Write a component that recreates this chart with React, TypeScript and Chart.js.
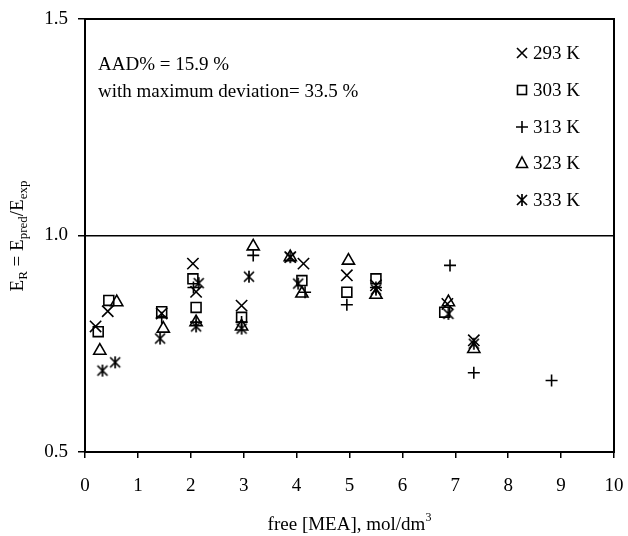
import React, { useEffect, useRef } from 'react';
import { Chart, registerables } from 'chart.js';

Chart.register(...registerables);

const FONT = "'Liberation Serif', 'Times New Roman', serif";

const seriesLabels = ['293 K', '303 K', '313 K', '323 K', '333 K'];

const x293 = [0.2, 0.43, 1.45, 2.04, 2.1, 2.96, 3.88, 4.13, 4.95, 5.5, 6.85, 7.35];
const y293 = [0.79, 0.825, 0.82, 0.935, 0.87, 0.838, 0.95, 0.935, 0.908, 0.885, 0.842, 0.758];

const x303 = [0.25, 0.45, 1.45, 2.04, 2.1, 2.96, 4.1, 4.95, 5.5, 6.8];
const y303 = [0.778, 0.85, 0.824, 0.9, 0.834, 0.811, 0.896, 0.869, 0.9, 0.823];

const x313 = [1.45, 2.05, 2.1, 2.96, 3.18, 4.16, 4.95, 5.5, 6.9, 7.35, 8.82];
const y313 = [0.81, 0.88, 0.8, 0.8, 0.954, 0.869, 0.84, 0.88, 0.931, 0.683, 0.665];

const x323 = [0.28, 0.6, 1.48, 2.1, 2.96, 3.18, 3.88, 4.1, 4.98, 5.5, 6.87, 7.35];
const y323 = [0.734, 0.846, 0.785, 0.8, 0.79, 0.975, 0.95, 0.866, 0.942, 0.863, 0.846, 0.738];

const x333 = [0.33, 0.57, 1.42, 2.15, 2.1, 2.96, 3.1, 3.88, 4.03, 5.5, 6.87, 7.35];
const y333 = [0.688, 0.707, 0.762, 0.89, 0.79, 0.785, 0.905, 0.95, 0.889, 0.875, 0.819, 0.75];

const annotationLines = ['AAD% = 15.9 %', 'with maximum deviation= 33.5 %'];

const xTitle = 'free [MEA], mol/dm';
const xTitleSup = '3';

function makeAsterisk(): HTMLCanvasElement {
  const size = 14;
  const c = document.createElement('canvas');
  c.width = size;
  c.height = size;
  const g = c.getContext('2d')!;
  g.strokeStyle = '#000';
  g.lineWidth = 1.7;
  const cx = size / 2;
  const cy = size / 2;
  g.beginPath();
  g.moveTo(cx, 1);
  g.lineTo(cx, size - 1);
  g.moveTo(cx - 5, cy - 5);
  g.lineTo(cx + 5, cy + 5);
  g.moveTo(cx + 5, cy - 5);
  g.lineTo(cx - 5, cy + 5);
  g.stroke();
  return c;
}

function pts(xs: number[], ys: number[]) {
  return xs.map((x, i) => ({ x, y: ys[i] }));
}

export default function App() {
  const ref = useRef<HTMLCanvasElement | null>(null);

  useEffect(() => {
    document.body.style.margin = '0';
    const canvas = ref.current;
    if (!canvas) return;
    const asterisk = makeAsterisk();

    const styles: any[] = ['crossRot', 'rect', 'cross', 'triangle', asterisk];
    const radii = [8, 7, 6, 7, 7];
    const xs = [x293, x303, x313, x323, x333];
    const ys = [y293, y303, y313, y323, y333];

    const datasets = seriesLabels.map((label, i) => ({
      label,
      data: pts(xs[i], ys[i]),
      pointStyle: styles[i],
      pointRadius: radii[i],
      pointBorderWidth: 1.6,
      pointBorderColor: '#000',
      pointBackgroundColor: 'transparent',
      borderColor: '#000',
      backgroundColor: 'transparent',
      showLine: false,
    }));

    const frame = {
      id: 'frame',
      afterDraw(chart: any) {
        const { ctx, chartArea: a } = chart;
        ctx.save();
        ctx.strokeStyle = '#000';
        ctx.lineWidth = 2;
        ctx.strokeRect(a.left, a.top, a.right - a.left, a.bottom - a.top);

        // annotation text
        ctx.fillStyle = '#000';
        ctx.font = `19px ${FONT}`;
        ctx.textAlign = 'left';
        ctx.textBaseline = 'alphabetic';
        ctx.fillText(annotationLines[0], 98, 70);
        ctx.fillText(annotationLines[1], 98, 97);

        // legend
        const ly = [53, 90, 127, 163, 200];
        const mx = 522;
        ctx.lineWidth = 1.6;
        seriesLabels.forEach((lab, i) => {
          const y = ly[i];
          ctx.beginPath();
          if (i === 0) {
            ctx.moveTo(mx - 5, y - 5); ctx.lineTo(mx + 5, y + 5);
            ctx.moveTo(mx + 5, y - 5); ctx.lineTo(mx - 5, y + 5);
            ctx.stroke();
          } else if (i === 1) {
            ctx.strokeRect(mx - 4.5, y - 4.5, 9, 9);
          } else if (i === 2) {
            ctx.moveTo(mx - 6, y); ctx.lineTo(mx + 6, y);
            ctx.moveTo(mx, y - 6); ctx.lineTo(mx, y + 6);
            ctx.stroke();
          } else if (i === 3) {
            ctx.moveTo(mx, y - 6); ctx.lineTo(mx + 5.5, y + 4.5); ctx.lineTo(mx - 5.5, y + 4.5);
            ctx.closePath();
            ctx.stroke();
          } else {
            ctx.drawImage(asterisk, mx - 7, y - 7);
          }
          ctx.textBaseline = 'middle';
          ctx.fillText(lab, 533, y + 1);
        });

        // y-axis title with subscripts
        const big = `19px ${FONT}`;
        const small = `13px ${FONT}`;
        const parts: [string, boolean][] = [
          ['E', false], ['R', true], [' = E', false], ['pred', true], ['/E', false], ['exp', true],
        ];
        let total = 0;
        parts.forEach(([t, s]) => { ctx.font = s ? small : big; total += ctx.measureText(t).width; });
        ctx.translate(23, 236);
        ctx.rotate(-Math.PI / 2);
        ctx.textBaseline = 'alphabetic';
        let cx = -total / 2;
        parts.forEach(([t, s]) => {
          ctx.font = s ? small : big;
          ctx.fillText(t, cx, s ? 4 : 0);
          cx += ctx.measureText(t).width;
        });
        ctx.restore();

        // x-axis title with superscript
        ctx.save();
        ctx.fillStyle = '#000';
        ctx.font = `19px ${FONT}`;
        const w1 = ctx.measureText(xTitle).width;
        ctx.font = `12px ${FONT}`;
        const w2 = ctx.measureText(xTitleSup).width;
        const startX = (a.left + a.right) / 2 - (w1 + w2) / 2;
        ctx.textBaseline = 'alphabetic';
        ctx.font = `19px ${FONT}`;
        ctx.fillText(xTitle, startX, 530);
        ctx.font = `12px ${FONT}`;
        ctx.fillText(xTitleSup, startX + w1, 521);
        ctx.restore();
      },
    };

    const chart = new Chart(canvas, {
      type: 'scatter',
      data: { datasets },
      options: {
        animation: false,
        responsive: false,
        maintainAspectRatio: false,
        layout: { padding: { left: 0, top: 19, right: 14, bottom: 0 } },
        plugins: { legend: { display: false }, tooltip: { enabled: false } },
        scales: {
          x: {
            type: 'linear',
            min: 0,
            max: 10,
            afterFit: (s: any) => { s.height = 84; s.paddingRight = 0; s.paddingLeft = 0; },
            border: { display: false },
            grid: { drawOnChartArea: false, tickLength: 6, tickColor: '#000', lineWidth: 1.5 },
            ticks: {
              stepSize: 1,
              padding: 17,
              color: '#000',
              font: { family: FONT, size: 19 },
              callback: (v: any) => String(v),
            },
          },
          y: {
            type: 'linear',
            min: 0.5,
            max: 1.5,
            afterFit: (s: any) => { s.width = 85; s.paddingTop = 0; s.paddingBottom = 0; },
            border: { display: false },
            grid: {
              drawOnChartArea: true,
              tickLength: 7,
              tickColor: '#000',
              lineWidth: 1.5,
              color: (c: any) => (c.tick && c.tick.value === 1 ? '#000' : 'rgba(0,0,0,0)'),
            },
            ticks: {
              stepSize: 0.5,
              padding: 10,
              color: '#000',
              font: { family: FONT, size: 19 },
              callback: (v: any) => Number(v).toFixed(1),
            },
          },
        },
      },
      plugins: [frame],
    });

    return () => chart.destroy();
  }, []);

  return (
    <div style={{ width: 628, height: 536 }}>
      <canvas ref={ref} width={628} height={536} style={{ display: 'block' }} />
    </div>
  );
}
